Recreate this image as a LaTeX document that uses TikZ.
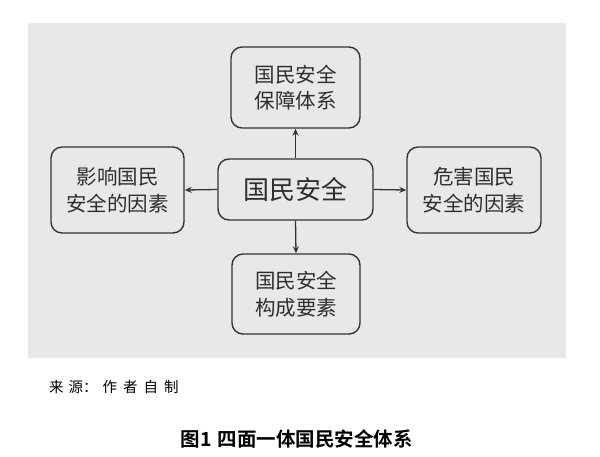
\documentclass[tikz,border=0pt]{standalone}
\usepackage{fontspec}
\newfontfamily\cjk{Noto Sans CJK SC}
\newfontfamily\cjkb{Noto Sans CJK SC Bold}
\usetikzlibrary{arrows.meta}
\definecolor{bggray}{HTML}{E8E8E8}
\definecolor{boxline}{HTML}{333333}
\definecolor{txt}{HTML}{2E2E2E}
\tikzset{
  box/.style={draw=boxline, line width=1.4pt, rounded corners=11pt, fill=bggray,
    align=center, text=txt, inner sep=0pt,
    font=\cjk\fontsize{20.5}{26.5}\selectfont},
  conn/.style={draw=boxline, line width=1.3pt, -{Stealth[length=7pt,width=6pt]}}
}
\begin{document}
\begin{tikzpicture}[x=1pt,y=-1pt]
\useasboundingbox (0,0) rectangle (600,456);
\fill[white] (0,0) rectangle (600,456);
\fill[bggray] (28,23) rectangle (566,358);
\node[box, minimum width=129pt, minimum height=81pt] (top) at (295.5,87.5) {国民安全\\保障体系};
\node[box, minimum width=133pt, minimum height=86pt] (left) at (117.5,190) {影响国民\\安全的因素};
\node[box, minimum width=155pt, minimum height=61pt, font=\cjk\fontsize{26}{30}\selectfont] (center) at (295.5,189.5) {国民安全};
\node[box, minimum width=134pt, minimum height=86pt] (right) at (474,190) {危害国民\\安全的因素};
\node[box, minimum width=128pt, minimum height=80pt] (bottom) at (296,294) {国民安全\\构成要素};
\draw[conn] (center.north) -- (top.south);
\draw[conn] (center.south) -- (bottom.north);
\draw[conn] (center.west) -- (left.east);
\draw[conn] (center.east) -- (right.west);
\node[anchor=west, text=black, inner sep=0pt, font=\cjk\fontsize{14.5}{16}\selectfont] (src) at (49,387)
  {来\hspace{5pt}源：\hspace{5pt}作\hspace{6pt}者\hspace{6pt}自\hspace{6pt}制};
\node[text=black, inner sep=0pt, font=\cjkb\fontsize{19.5}{22}\selectfont] (cap) at (297,439) {图1\hspace{6pt}四面一体国民安全体系};
\end{tikzpicture}
\end{document}
